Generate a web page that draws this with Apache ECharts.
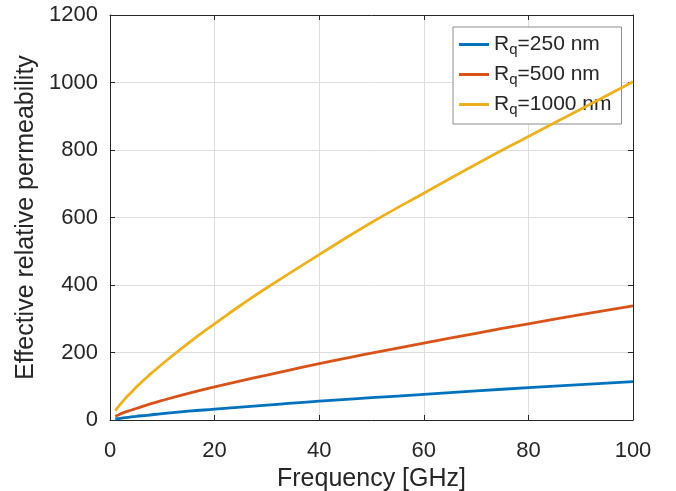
<!DOCTYPE html>
<html>
<head>
<meta charset="utf-8">
<script src="https://cdn.jsdelivr.net/npm/echarts@6/dist/echarts.min.js"></script>
<style>
  html, body { margin: 0; padding: 0; background: #fff; }
  #chart { width: 676px; height: 491px; }
</style>
</head>
<body>
<div id="chart"></div>
<script>
// Frequency samples [GHz]
const frequency = [1, 2, 3, 4, 5, 7, 10, 15, 20, 25, 30, 40, 50, 60, 70, 80, 90, 100];
// Effective relative permeability for each roughness Rq
const rq250  = [3, 5, 7, 9, 11, 14, 19, 26, 32, 38, 44, 56, 66, 76, 86, 96, 105, 114];
const rq500  = [11, 18, 24, 29, 34, 44, 58, 79, 98, 116, 133, 167, 198, 228, 257, 285, 312, 338];
const rq1000 = [28, 47, 65, 81, 97, 126, 166, 228, 285, 340, 392, 490, 585, 672, 758, 840, 921, 1002];

const seriesNames = ['250 nm', '500 nm', '1000 nm'];
const seriesColors = ['#0072BD', '#D95319', '#EDB120'];
const seriesData = [rq250, rq500, rq1000];

const FONT = 'Liberation Sans, Arial, Helvetica, sans-serif';
const INK = '#262626';

const chart = echarts.init(document.getElementById('chart'), null, { renderer: 'canvas' });

function pairs(ys) { return frequency.map((f, i) => [f, ys[i]]); }

const xCommon = { type: 'value', min: 0, max: 100, interval: 20 };
const yCommon = { type: 'value', min: 0, max: 1200, interval: 200 };
const lineCfg = { show: true, onZero: false, lineStyle: { color: INK, width: 1 } };
const tickCfg = { show: true, inside: true, length: 5, lineStyle: { color: INK, width: 1 } };
const plain = v => String(v);

chart.setOption({
  animation: false,
  backgroundColor: '#fff',
  grid: { left: 110, right: 43, top: 15, bottom: 71, containLabel: false, outerBoundsMode: 'none' },
  xAxis: [
    Object.assign({}, xCommon, {
      position: 'bottom',
      name: 'Frequency [GHz]',
      nameLocation: 'middle',
      nameGap: 44,
      nameTextStyle: { fontFamily: FONT, fontSize: 25, color: INK },
      axisLine: lineCfg,
      axisTick: tickCfg,
      axisLabel: { fontFamily: FONT, fontSize: 22, color: INK, margin: 20, formatter: plain },
      splitLine: { show: true, lineStyle: { color: '#dedede', width: 1 } }
    }),
    Object.assign({}, xCommon, {
      position: 'top',
      axisLine: lineCfg,
      axisTick: tickCfg,
      axisLabel: { show: false },
      splitLine: { show: false }
    })
  ],
  yAxis: [
    Object.assign({}, yCommon, {
      position: 'left',
      name: 'Effective relative permeability',
      nameLocation: 'middle',
      nameGap: 71,
      nameTextStyle: { fontFamily: FONT, fontSize: 25, color: INK },
      axisLine: lineCfg,
      axisTick: tickCfg,
      axisLabel: { fontFamily: FONT, fontSize: 22, color: INK, margin: 12, formatter: plain },
      splitLine: { show: true, lineStyle: { color: '#dedede', width: 1 } }
    }),
    Object.assign({}, yCommon, {
      position: 'right',
      axisLine: lineCfg,
      axisTick: tickCfg,
      axisLabel: { show: false },
      splitLine: { show: false }
    })
  ],
  legend: {
    left: 453,
    top: 27,
    orient: 'vertical',
    padding: [5, 10, 7, 6],
    itemGap: 5,
    itemWidth: 30,
    itemHeight: 3,
    icon: 'rect',
    backgroundColor: '#fff',
    borderColor: '#8c8c8c',
    borderWidth: 1,
    borderRadius: 0,
    data: seriesNames,
    formatter: function (name) {
      return '{a|R}{s|q}{a|=' + name + '}';
    },
    textStyle: {
      color: INK,
      rich: {
        a: { fontFamily: FONT, fontSize: 21, color: INK, lineHeight: 26 },
        s: { fontFamily: FONT, fontSize: 15, color: INK, lineHeight: 26, padding: [10, 0, 0, 0] }
      }
    }
  },
  series: seriesNames.map((name, i) => ({
    name: name,
    type: 'line',
    xAxisIndex: 0,
    yAxisIndex: 0,
    data: pairs(seriesData[i]),
    smooth: true,
    symbol: 'none',
    showSymbol: false,
    clip: true,
    color: seriesColors[i],
    lineStyle: { color: seriesColors[i], width: 2.8 },
    z: 3 + i
  }))
});
</script>
</body>
</html>
